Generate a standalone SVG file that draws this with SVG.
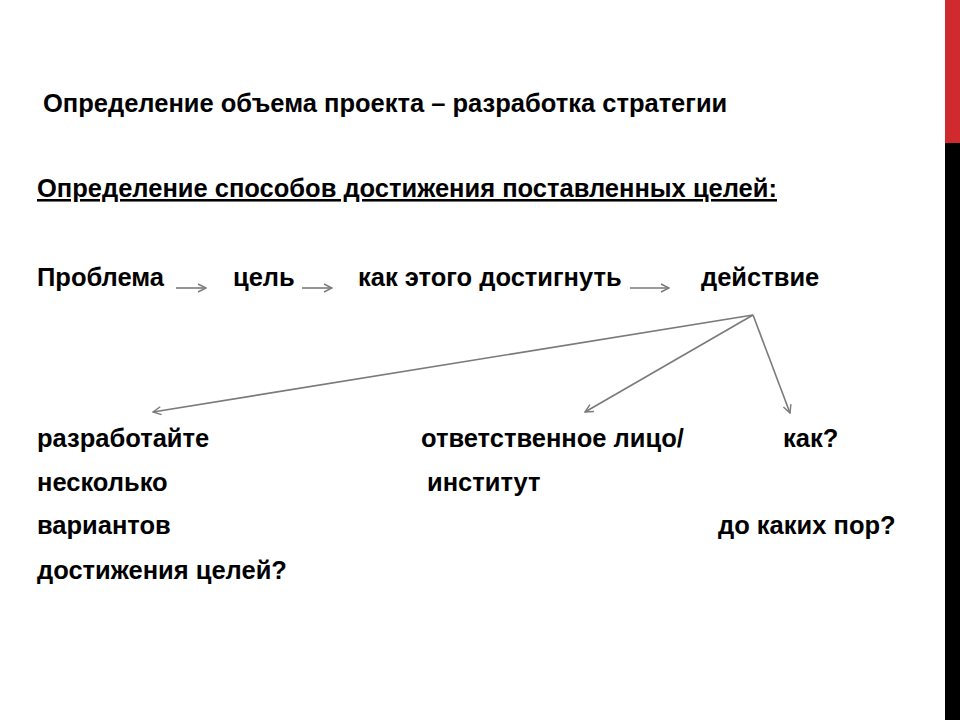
<svg xmlns="http://www.w3.org/2000/svg" width="960" height="720" viewBox="0 0 960 720">
<style>
text{font-family:"Liberation Sans",Arial,sans-serif;font-weight:bold;font-size:25.5px;fill:#000}
.c{stroke:#7a7a7a;stroke-width:1.6;fill:none}
</style>
<defs>
<marker id="a" viewBox="0 0 10 10" refX="9" refY="5" markerWidth="10" markerHeight="10" markerUnits="userSpaceOnUse" orient="auto">
<path d="M1,1 L9,5 L1,9" fill="none" stroke="#7a7a7a" stroke-width="1.4"/>
</marker>
</defs>
<rect width="960" height="720" fill="#fff"/>
<rect x="945" y="0" width="15" height="143" fill="#d12a2e"/>
<rect x="945" y="143" width="15" height="577" fill="#000"/>
<text x="43" y="112">Определение объема проекта – разработка стратегии</text>
<text x="37" y="197" text-decoration="underline">Определение способов достижения поставленных целей:</text>
<g id="n1"><text x="37" y="286">Проблема</text></g>
<g id="n2"><text x="233" y="286">цель</text></g>
<g id="n3"><text x="358" y="286">как этого достигнуть</text></g>
<g id="n4"><text x="701" y="286">действие</text></g>
<g id="n5"><text x="37" y="447">разработайте</text><text x="37" y="491">несколько</text><text x="37" y="534">вариантов</text><text x="37" y="579">достижения целей?</text></g>
<g id="n6"><text x="421" y="447">ответственное лицо/</text><text x="427" y="491">институт</text></g>
<g id="n7"><text x="783" y="447">как?</text><text x="718" y="534">до каких пор?</text></g>
<g id="connectors">
<line class="c" x1="176" y1="288" x2="206" y2="288" marker-end="url(#a)"/>
<line class="c" x1="302" y1="288" x2="332" y2="288" marker-end="url(#a)"/>
<line class="c" x1="630" y1="288" x2="669" y2="288" marker-end="url(#a)"/>
<line class="c" x1="753" y1="315" x2="153" y2="412" marker-end="url(#a)"/>
<line class="c" x1="753" y1="315" x2="585" y2="412" marker-end="url(#a)"/>
<line class="c" x1="753" y1="315" x2="790" y2="413" marker-end="url(#a)"/>
</g>
</svg>
